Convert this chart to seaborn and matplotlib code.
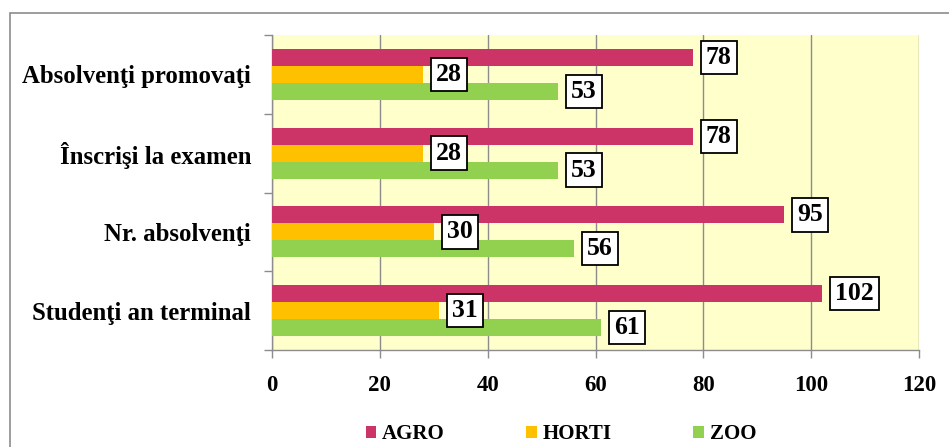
import matplotlib
matplotlib.use("Agg")
import matplotlib.pyplot as plt
from matplotlib.patches import Patch, Rectangle
import seaborn as sns
import pandas as pd

categories = ["Absolvenţi promovaţi", "Înscrişi la examen", "Nr. absolvenţi", "Studenţi an terminal"]
series = ["AGRO", "HORTI", "ZOO"]
agro = [78, 78, 95, 102]
horti = [28, 28, 30, 31]
zoo = [53, 53, 56, 61]
xticks = [0, 20, 40, 60, 80, 100, 120]
colors = ["#CC3366", "#FFC000", "#92D050"]

rows = []
for s, vals in zip(series, [agro, horti, zoo]):
    for c, v in zip(categories, vals):
        rows.append({"cat": c, "series": s, "value": v})
df = pd.DataFrame(rows)

sns.set_theme(style="white")
plt.rcParams["font.family"] = ["Liberation Serif", "DejaVu Serif"]
plt.rcParams["font.weight"] = "bold"
plt.rcParams["text.color"] = "black"
plt.rcParams["xtick.labelcolor"] = "black"
plt.rcParams["ytick.labelcolor"] = "black"

fig = plt.figure(figsize=(9.49, 4.47), dpi=100)
ax = fig.add_axes([272 / 949, 1 - 350 / 447, (919 - 272) / 949, (350 - 35) / 447])
ax.set_facecolor("#FFFFCC")

sns.barplot(data=df, y="cat", x="value", hue="series", order=categories,
            hue_order=series, palette=colors, orient="h", width=0.645,
            linewidth=0, saturation=1, legend=False, ax=ax, zorder=3)

ax.set_xlim(0, 120)
ax.set_ylim(3.5, -0.5)
ax.set_xticks(xticks)
ax.set_xticklabels([str(t) for t in xticks], fontsize=16.5, fontweight="bold", color="black")
ax.xaxis.grid(True, color="#8C8C8C", linewidth=1.0, zorder=0)
ax.set_axisbelow(True)
ax.set_xlabel("")
ax.set_ylabel("")

# category ticks at boundaries, labels at centers
ax.set_yticks([-0.5, 0.5, 1.5, 2.5, 3.5])
ax.set_yticklabels([])
ax.set_yticks(range(len(categories)), minor=True)
ax.set_yticklabels(categories, minor=True, fontsize=17.8, fontweight="bold", color="black")
ax.tick_params(axis="y", which="major", direction="out", length=6, width=1, color="#8C8C8C", left=True)
ax.tick_params(axis="y", which="minor", length=0, pad=15)
ax.tick_params(axis="x", direction="out", length=6, width=1, color="#8C8C8C", bottom=True, pad=12)

for side in ["top", "right"]:
    ax.spines[side].set_visible(False)
for side in ["left", "bottom"]:
    ax.spines[side].set_color("#8C8C8C")
    ax.spines[side].set_linewidth(1)

# value labels
for cont in ax.containers:
    for bar in cont:
        w = bar.get_width()
        yc = bar.get_y() + bar.get_height() / 2
        ax.annotate(f"{int(round(w))}", xy=(w, yc), xytext=(9.5, 0),
                    textcoords="offset points", ha="left", va="center",
                    fontsize=18.5, fontweight="bold", color="black", zorder=5,
                    bbox=dict(boxstyle="square,pad=0.2", fc="white", ec="black", lw=1.3))

handles = [Patch(facecolor=c, edgecolor="none", label=s) for s, c in zip(series, colors)]
fig.legend(handles=handles, loc="center", bbox_to_anchor=(561 / 949, 1 - 434 / 447),
           ncol=3, frameon=False, handlelength=0.5, handleheight=0.5,
           handletextpad=0.3, columnspacing=3.9, labelcolor="black",
           prop={"weight": "bold", "size": 15})

fig.patches.append(Rectangle((10 / 949, -0.2), 1.5, 1 - 13 / 447 + 0.2, transform=fig.transFigure,
                             fill=False, edgecolor="#8C8C8C", linewidth=1.2))

fig.savefig("out.png", dpi=100, facecolor="white")
